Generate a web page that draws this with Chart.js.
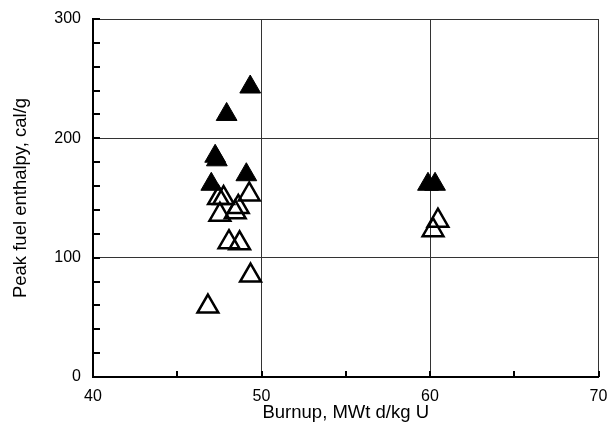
<!DOCTYPE html>
<html><head><meta charset="utf-8">
<script src="https://cdn.jsdelivr.net/npm/chart.js@4"></script>
<style>html,body{margin:0;padding:0;background:#fff}</style>
</head><body>
<canvas id="c" width="613" height="423"></canvas>
<script>
// Filled triangles
const filledBurnup   = [49.33, 47.93, 47.25, 47.35, 49.10, 47.02, 59.88, 60.30];
const filledEnthalpy = [243.0, 220.0, 185.0, 182.0, 169.5, 161.5, 161.5, 161.5];
// Open triangles
const openBurnup   = [47.45, 47.75, 49.27, 48.62, 48.44, 47.53, 48.07, 48.70, 49.35, 46.82, 60.47, 60.18];
const openEnthalpy = [150.0, 150.0, 153.0, 142.5, 138.0, 136.0, 113.0, 112.0, 85.0, 59.0, 131.0, 123.0];
const xTickLabels = [40, 50, 60, 70];
const yTickLabels = [0, 100, 200, 300];
const xTitle = 'Burnup, MWt d/kg U';
const yTitle = 'Peak fuel enthalpy, cal/g';

const toPts = (xs, ys) => xs.map((x, i) => ({x: x, y: ys[i]}));
const FONT = 'Liberation Sans, Arial, sans-serif';

const innerTicks = {
  id: 'innerTicks',
  beforeDatasetsDraw(chart) {
    const {ctx, chartArea: a, scales: {x, y}} = chart;
    ctx.save();
    ctx.strokeStyle = '#000';
    ctx.lineWidth = 2;
    ctx.beginPath();
    for (let v = x.min; v <= x.max; v += 5) {
      const px = Math.round(x.getPixelForValue(v));
      ctx.moveTo(px, a.bottom);
      ctx.lineTo(px, a.bottom - 6);
    }
    for (let v = y.min; v <= y.max; v += 20) {
      const py = Math.round(y.getPixelForValue(v));
      ctx.moveTo(a.left, py);
      ctx.lineTo(a.left + 7, py);
    }
    ctx.stroke();
    ctx.restore();
  }
};

new Chart(document.getElementById('c'), {
  type: 'scatter',
  data: {
    datasets: [
      {
        label: 'open',
        data: toPts(openBurnup, openEnthalpy),
        pointStyle: 'triangle',
        pointRadius: 12,
        pointHoverRadius: 12,
        backgroundColor: 'rgba(0,0,0,0)',
        borderColor: '#000',
        borderWidth: 2.5,
        order: 0
      },
      {
        label: 'filled',
        data: toPts(filledBurnup, filledEnthalpy),
        pointStyle: 'triangle',
        pointRadius: 12,
        pointHoverRadius: 12,
        backgroundColor: '#000',
        borderColor: '#000',
        borderWidth: 1,
        order: 1
      }
    ]
  },
  options: {
    responsive: false,
    animation: false,
    events: [],
    layout: {padding: {left: 0, right: 12, top: 19, bottom: 0}},
    plugins: {legend: {display: false}, tooltip: {enabled: false}},
    scales: {
      x: {
        type: 'linear',
        min: 40, max: 70,
        afterFit(s) { s.height = 46; s.paddingLeft = 0; s.paddingRight = 0; },
        afterBuildTicks(s) {
          const t = [];
          for (let v = 40; v <= 70; v += 5) t.push({value: v});
          s.ticks = t;
        },
        ticks: {
          autoSkip: false,
          maxRotation: 0,
          padding: 10,
          color: '#000',
          font: {family: FONT, size: 16},
          callback: v => xTickLabels.includes(v) ? String(v) : ''
        },
        grid: {
          drawTicks: false,
          color: c => (c.tick && c.tick.value % 10 === 0) ? '#333' : 'rgba(0,0,0,0)',
          lineWidth: 1
        },
        border: {display: true, color: '#000', width: 2},
        title: {
          display: true, text: xTitle, color: '#000',
          font: {family: FONT, size: 18.5, lineHeight: 1.0},
          padding: {top: 0, bottom: 1}
        }
      },
      y: {
        type: 'linear',
        min: 0, max: 300,
        afterFit(s) { s.width = 93; s.paddingTop = 0; s.paddingBottom = 0; },
        afterBuildTicks(s) {
          const t = [];
          for (let v = 0; v <= 300; v += 20) t.push({value: v});
          s.ticks = t;
        },
        ticks: {
          autoSkip: false,
          padding: 12,
          color: '#000',
          font: {family: FONT, size: 16},
          callback: v => yTickLabels.includes(v) ? String(v) : ''
        },
        grid: {
          drawTicks: false,
          color: c => (c.tick && c.tick.value % 100 === 0) ? '#333' : 'rgba(0,0,0,0)',
          lineWidth: 1
        },
        border: {display: true, color: '#000', width: 2},
        title: {
          display: true, text: yTitle, color: '#000',
          font: {family: FONT, size: 18.5, lineHeight: 1.0},
          padding: {top: 12, bottom: 0}
        }
      }
    }
  },
  plugins: [innerTicks]
});
</script>
</body></html>
